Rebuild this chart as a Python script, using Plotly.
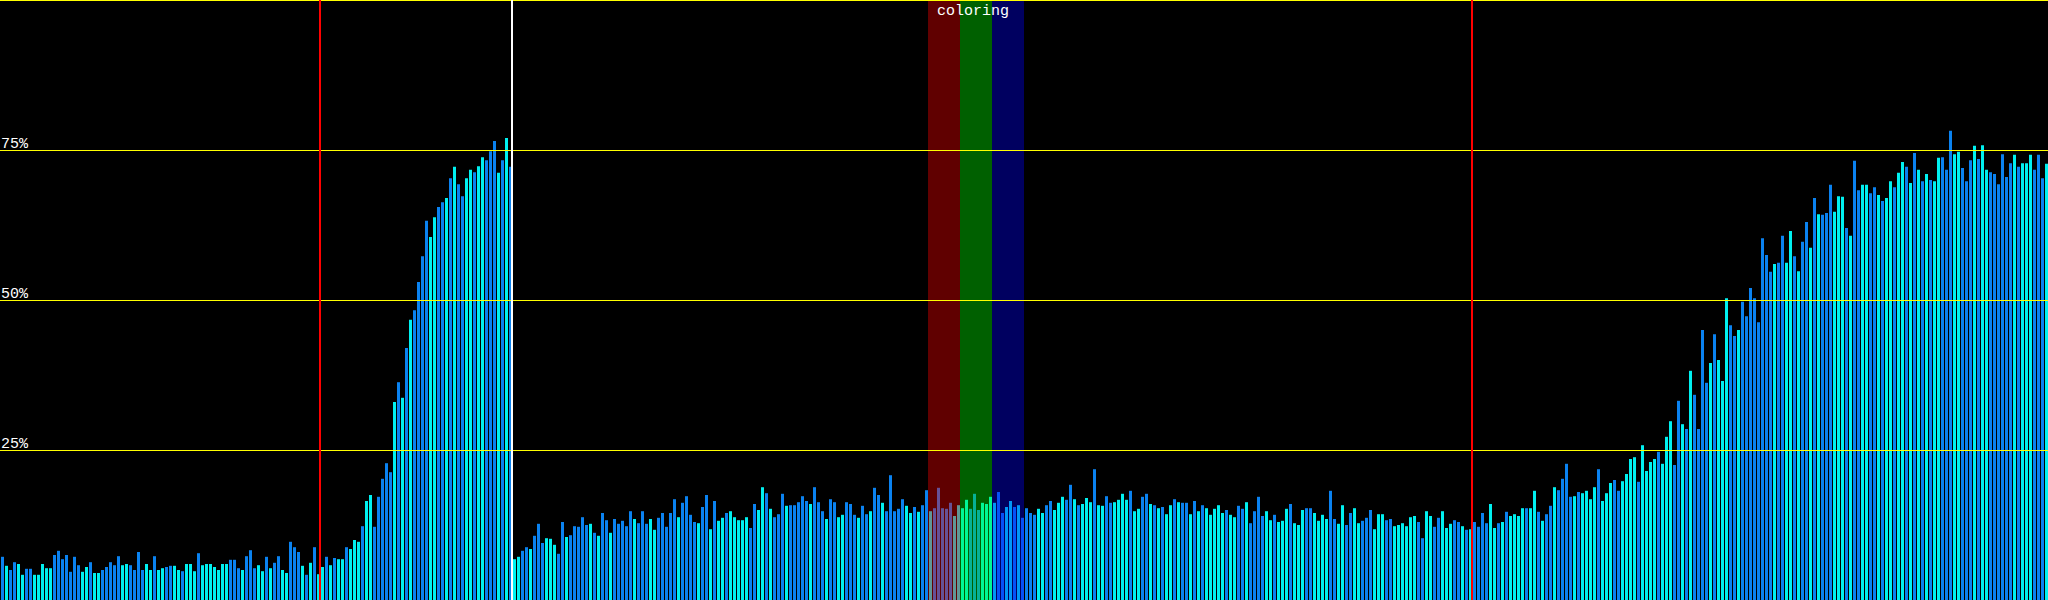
import plotly.graph_objects as go

# bar heights in percent, grouped by stretch of the x axis
vals_000 = [
    7.2, 5.7, 5.0, 6.3, 6.0, 4.2, 5.2, 5.2, 4.2, 4.2,
    6.0, 5.3, 5.3, 7.5, 8.2, 6.8, 7.5, 4.7, 7.2, 5.8,
    4.7, 5.5, 6.3, 4.5, 4.5, 5.0, 5.5, 6.3, 5.8, 7.3,
    5.8, 6.0, 5.8, 5.0, 8.0, 5.0, 6.0, 5.0, 7.3, 5.0,
    5.3, 5.5, 5.7, 5.7, 5.0, 4.8, 6.0, 6.0, 4.8, 7.8,
    5.8, 6.0, 6.0, 5.5, 5.0, 6.0, 6.0, 6.7, 6.7, 5.3,
    5.0, 7.3, 8.3, 5.3, 5.8, 4.8, 7.2, 5.3, 6.2, 7.3,
    5.0, 4.5, 9.7, 8.8, 8.0, 5.7, 4.2, 6.2, 8.8, 4.3,
    5.5, 7.2, 5.8, 7.0, 6.8,
]
vals_085 = [
    6.8, 8.8, 8.5, 10.0, 9.7, 12.3, 16.5, 17.5, 12.2, 17.2,
    20.2, 22.8, 21.3, 33.0, 36.3, 33.7, 42.0, 46.7, 48.3, 53.0,
    57.3, 63.2, 60.5, 63.8, 65.5, 66.3, 67.0, 70.3, 72.2, 69.3,
    67.3, 70.3, 71.7, 71.3, 72.3, 73.8, 73.3, 74.8, 76.5, 71.2,
    73.3, 77.0, 72.2,
]
vals_128 = [
    6.8, 7.2, 8.2, 8.8, 8.5, 10.7, 12.7, 9.5, 10.3, 10.2,
    9.2, 7.7, 13.0, 10.5, 10.8, 12.3, 12.2, 13.8, 12.5, 12.7,
    11.2, 10.7, 14.5, 13.3, 11.2, 13.5, 12.7, 13.2, 12.3, 14.8,
    13.5, 12.8, 14.8, 12.7, 13.5, 11.7, 13.7, 14.5, 12.2, 14.5,
    16.8, 13.8, 16.2, 17.3, 14.2, 13.0, 12.8, 15.5, 17.5, 11.8,
    16.5, 13.2, 13.7, 14.5, 14.8, 13.8, 13.3, 13.3, 13.8, 12.0,
    16.0, 15.0, 18.8, 17.8,
]
vals_192 = [
    15.2, 13.8, 14.3, 17.7, 15.7, 15.8, 15.8, 16.3, 17.3, 16.5,
    16.0, 18.8, 16.3, 14.8, 13.5, 16.8, 16.3, 13.8, 14.2, 16.3,
    16.0, 14.2, 13.7, 15.7, 14.3, 14.8, 18.7, 17.5, 16.2, 14.8,
    20.8, 14.8, 15.2, 16.8, 15.7, 14.5, 15.5, 14.7, 15.8, 18.3,
    14.8, 15.3, 18.7, 15.3, 15.2, 16.2, 14.0, 15.8,
    15.3, 16.7, 15.2, 17.7, 15.0, 16.2, 16.0, 17.2,
    16.2, 18.0, 14.5, 15.5, 16.5, 15.5, 15.8, 13.7,
]
vals_256 = [
    15.3, 14.5, 14.2, 15.2, 14.5, 15.8, 16.5, 15.0, 16.2, 17.2,
    16.7, 19.2, 16.8, 15.8, 16.0, 17.0, 16.3, 21.8, 15.8, 15.7,
    17.3, 16.2, 16.3, 16.7, 17.7, 16.7, 18.2, 14.8, 15.2, 17.2,
    17.7, 16.0, 15.8, 15.3, 15.5, 14.3, 15.8, 16.8, 16.3, 16.2,
    16.2, 14.3, 16.5, 14.8, 15.8, 15.3, 14.2, 15.2, 15.8, 14.5,
    15.0, 14.2, 13.8, 15.7, 15.2, 16.3, 12.8, 14.8, 17.2, 14.0,
    14.8, 13.3, 14.2, 13.0,
]
vals_320 = [
    13.2, 15.2, 16.0, 12.8, 12.5, 15.0, 15.3, 15.3, 14.5, 13.2,
    14.2, 13.5, 18.2, 13.5, 12.7, 15.8, 12.5, 14.5, 15.3, 12.8,
    13.2, 13.7, 15.0, 11.8, 14.3, 14.3, 13.3, 13.5, 12.3, 12.5,
    12.8, 12.3, 13.8, 14.0, 13.0, 10.3, 14.8, 14.0, 12.2, 13.7,
    14.8, 12.0, 12.7, 13.3, 13.0, 12.3, 11.7, 11.8,
    13.0, 12.2, 14.5, 12.8, 16.0, 12.0, 12.8, 13.0, 14.7, 14.0,
    14.3, 14.0, 15.3, 15.3, 15.3, 18.2,
]
vals_384 = [
    14.7, 13.2, 14.3, 15.7, 18.8, 18.3, 20.2, 22.7, 17.2, 17.3,
    18.0, 17.8, 18.2, 16.8, 18.8, 21.8, 16.5, 17.8, 19.5, 20.0,
    18.2, 19.8, 21.0, 23.5, 23.8, 19.7, 25.8, 21.5, 23.0, 23.5,
    24.7, 22.7, 27.2, 29.8, 22.5, 33.2, 29.3, 28.5, 38.2, 34.2,
    28.5, 45.0, 36.2, 39.5, 44.3, 40.0, 36.5, 50.3, 45.8, 44.0,
    45.0, 49.7, 47.3, 52.0, 50.3, 46.3, 60.3, 57.5, 54.7, 56.0,
    56.2, 60.7, 56.2, 61.5,
]
vals_448 = [
    57.3, 54.8, 59.7, 63.0, 58.7, 67.0, 64.3, 64.2, 64.5, 69.2,
    64.7, 67.3, 67.2, 62.0, 60.7, 73.2, 68.3, 69.2, 69.2, 67.8,
    68.8, 67.5, 66.5, 67.0, 69.8, 68.8, 71.2, 73.0, 72.2, 69.5,
    74.5, 71.7, 69.8, 71.0, 70.0, 69.8, 73.7, 73.8, 71.7, 78.2,
    74.3, 74.7, 72.0, 69.8, 73.3, 75.7, 73.5, 75.8, 71.7, 71.3,
    71.0, 69.3, 74.3, 70.5, 72.8, 74.2, 72.2, 72.8, 72.8, 74.2,
    71.7, 74.2, 70.3, 72.7,
]

# b = blue bar, c = cyan bar
tone_000 = "bcbbccbbcc" "cccbbbbbbb" "ccbccbbbbb" "ccbbbbccbc" "cbbccbcccb" "cccccccbbb" "cbbbccbcbb" "ccbbbcbcbc" "cbcbc"
tone_085 = "cbcccbccbb" "bbbcbcbcbb" "bbccbbcbcb" "bccbccbbbc" "bcb"
tone_128 = "ccbbcbbbcc" "cbbcbbbbbc" "bcbbcbbbbb" "cbbbccbbbb" "bcbbbbcbbc" "bccbcccccb" "bccb"
tone_192 = "cbbbcbbbbb" "cbbbcbbccb" "bbcbbcbbcb" "bbbbccbcbb" "cbbbbbcc" "ccbbbccc" "cbbccbcb"
tone_256 = "bbbccbbccc" "bbcbcccbcc" "bbccccbccb" "bcbcbccbcb" "bcbcbccccc" "bccbbcbbbb" "ccbc"
tone_320 = "ccbcccbbcc" "ccbbccbbcc" "bbbcccbbcc" "ccccbbccbb" "cccbbcbc" "bbbbccbcbc" "cccbcc"
tone_384 = "bcbbcbbbbc" "bccccbcccb" "bccccbcccc" "bcccbbcbcb" "bbbcbcccbb" "cbbbbbbbbc" "bbcc"
tone_448 = "bcbbcbcbbb" "cccbcbbccb" "bcbccbccbc" "bcbcbccbbb" "ccbbbcbccb" "bbbbbcbccc" "bbbc"

grid_pct = [25, 50, 75]
grid_labels = ["25%", "50%", "75%"]
markers = [(80, "red"), (128, "white"), (368, "red")]  # line sits just before this bar
bands = [(232, 240, "rgba(255,0,0,0.376)"),
         (240, 248, "rgba(0,255,0,0.376)"),
         (248, 256, "rgba(0,0,255,0.376)")]
band_label = "coloring"

values = vals_000 + vals_085 + vals_128 + vals_192 + vals_256 + vals_320 + vals_384 + vals_448
tones = tone_000 + tone_085 + tone_128 + tone_192 + tone_256 + tone_320 + tone_384 + tone_448
palette = {"b": "#0a82f0", "c": "#00f0f0"}
colors = [palette[t] for t in tones]

W, H = 2048, 600
x_lo = -0.625              # bars land on whole pixels: 3px bar, 1px gap
px_x = len(values) / W     # one screen pixel in bar units
px_y = 100 / H             # one screen pixel in percent
slot = lambda k: k + x_lo  # left edge of bar k's slot

fig = go.Figure(go.Bar(
    x=list(range(len(values))), y=values,
    marker=dict(color=colors, line=dict(width=0)),
    hoverinfo="skip",
))

# thin rules are drawn as filled rects so they stay pixel-crisp
shapes = []
for b0, b1, col in bands:
    shapes.append(dict(type="rect", xref="x", yref="paper", x0=slot(b0), x1=slot(b1), y0=0, y1=1,
                       fillcolor=col, line=dict(width=0)))
for p in grid_pct:
    shapes.append(dict(type="rect", xref="paper", yref="y", x0=0, x1=1, y0=p - px_y, y1=p,
                       fillcolor="#ffff00", line=dict(width=0)))
shapes.append(dict(type="rect", xref="paper", yref="y", x0=0, x1=1, y0=100 - px_y, y1=100,
                   fillcolor="#ffff00", line=dict(width=0)))
for k, col in markers:
    shapes.append(dict(type="rect", xref="x", yref="paper", x0=slot(k) - px_x, x1=slot(k) + px_x,
                       y0=0, y1=1, fillcolor=col, line=dict(width=0)))

mono = dict(family="Liberation Mono, DejaVu Sans Mono, monospace", size=15, color="white")
annotations = [dict(xref="paper", yref="y", x=0, y=p, text=t, showarrow=False,
                    xanchor="left", yanchor="bottom", yshift=-4, font=mono, borderpad=0)
               for p, t in zip(grid_pct, grid_labels)]
annotations.append(dict(xref="x", yref="paper", x=(slot(bands[0][0]) + slot(bands[-1][1])) / 2, y=1,
                        text=band_label, showarrow=False, xanchor="center", yanchor="top",
                        xshift=-3, yshift=-2, font=mono, borderpad=0))

fig.update_layout(
    width=W, height=H,
    margin=dict(l=0, r=0, t=0, b=0),
    paper_bgcolor="black", plot_bgcolor="black",
    bargap=0.25, showlegend=False,
    xaxis=dict(range=[x_lo, len(values) + x_lo], visible=False, fixedrange=True),
    yaxis=dict(range=[0, 100], visible=False, fixedrange=True),
    shapes=shapes, annotations=annotations,
)
fig.write_html("out.html", config={"displayModeBar": False},
               post_script="document.body.style.margin='0';document.body.style.overflow='hidden';")
